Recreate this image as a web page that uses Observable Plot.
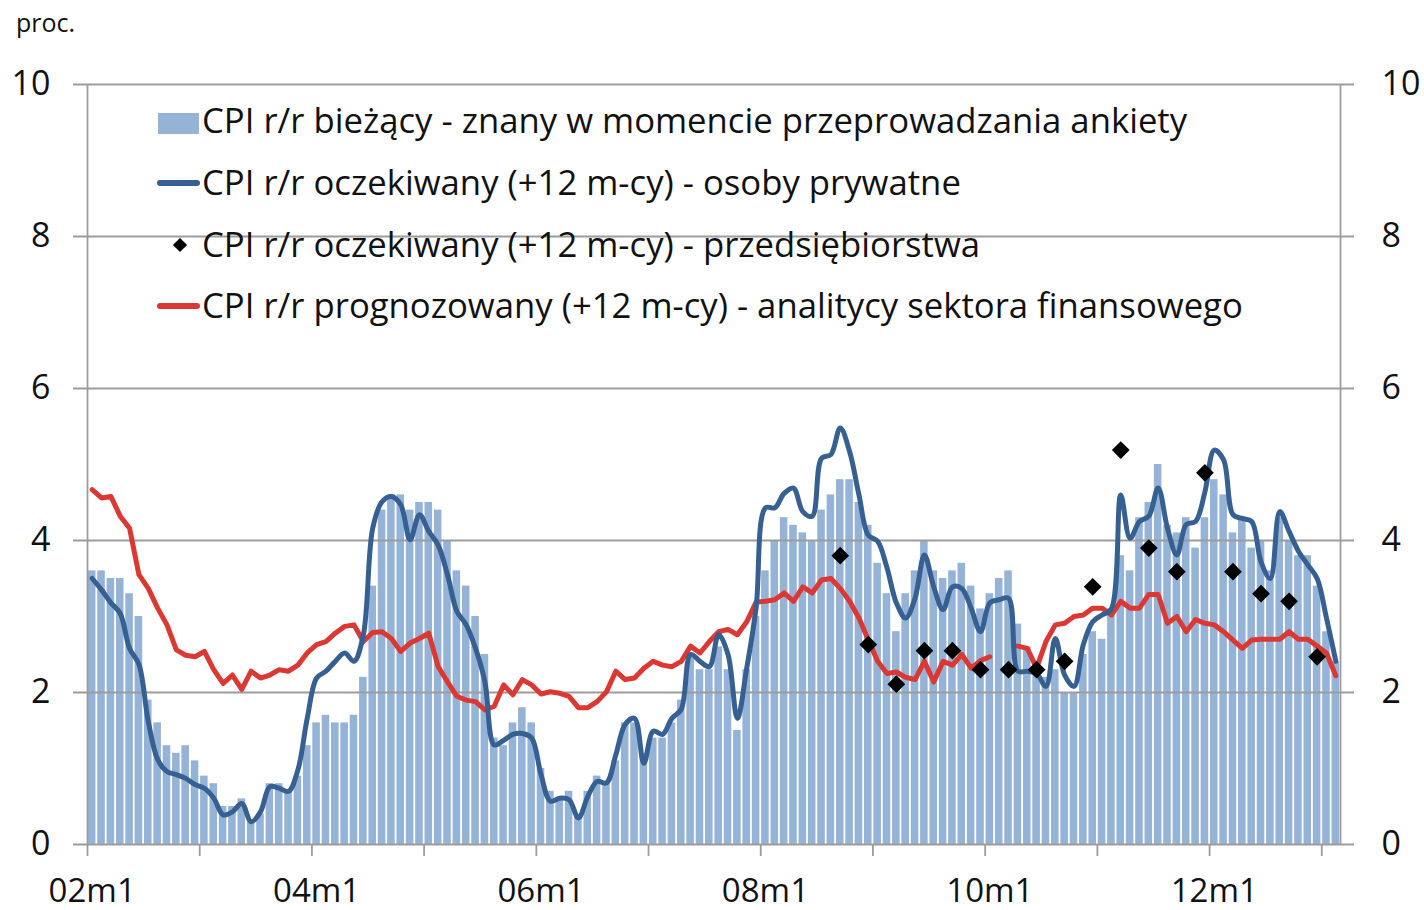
<!DOCTYPE html>
<html><head><meta charset="utf-8">
<script src="https://cdn.jsdelivr.net/npm/d3@7"></script>
<script src="https://cdn.jsdelivr.net/npm/@observablehq/plot@0.6"></script>
<style>
html,body{margin:0;padding:0;background:#fff;}
#wrap{position:relative;width:1424px;height:910px;font-family:"Open Sans",sans-serif;}
#wrap svg{position:absolute;left:0;top:0;}
.lbl{position:absolute;white-space:nowrap;color:#111;line-height:40px;height:40px;}
.sw{position:absolute;}
</style></head><body><div id="wrap"></div>
<script>
// ---- categories (months 2002m1 .. 2013m2) ----
const startYear = 2002;
const nMonths = 134;
const months = Array.from({length: nMonths}, (_, i) =>
  `${String((startYear + Math.floor(i / 12)) % 100).padStart(2, "0")}m${(i % 12) + 1}`);

// ---- series: CPI r/r bieżący (known at survey time) ----
const cpiCurrent = [3.6,3.6,
3.5,3.5,3.3,3.0,1.9,1.6,1.3,1.2,1.3,1.1,0.9,0.8,
0.5,0.5,0.6,0.3,0.4,0.8,0.8,0.7,0.9,1.3,1.6,1.7,
1.6,1.6,1.7,2.2,3.4,4.4,4.6,4.6,4.4,4.5,4.5,4.4,
4.0,3.6,3.4,3.0,2.5,1.4,1.3,1.6,1.8,1.6,1.0,0.7,
0.6,0.7,0.4,0.7,0.9,0.8,1.1,1.6,1.6,1.2,1.4,1.4,
1.6,1.9,2.5,2.3,2.3,2.6,2.3,1.5,2.3,3.0,3.6,4.0,
4.3,4.2,4.1,4.0,4.4,4.6,4.8,4.8,4.5,4.2,3.7,3.3,
2.8,3.3,3.6,4.0,3.6,3.5,3.6,3.7,3.4,3.1,3.3,3.5,
3.6,2.9,2.6,2.4,2.2,2.3,2.0,2.0,2.5,2.8,2.7,3.1,
3.8,3.6,4.3,4.5,5.0,4.2,4.1,4.3,3.9,4.3,4.8,4.6,
4.1,4.3,3.9,4.0,3.6,4.3,4.0,3.8,3.8,3.4,2.8,2.4];

// ---- series: CPI r/r oczekiwany (+12 m-cy) - osoby prywatne ----
const expHouseholds = [3.5,3.35,3.18,3.04,2.58,2.37,1.62,1.12,0.96,0.92,
0.87,0.79,0.74,0.61,0.39,0.43,0.54,0.30,0.43,0.76,
0.74,0.70,0.98,1.66,2.19,2.28,2.41,2.52,2.41,2.76,
4.16,4.51,4.58,4.47,4.01,4.34,4.12,3.94,3.55,3.07,
2.89,2.58,2.14,1.31,1.37,1.45,1.46,1.40,0.92,0.57,
0.61,0.59,0.35,0.63,0.83,0.81,1.18,1.58,1.66,1.07,
1.49,1.45,1.66,1.78,2.50,2.41,2.34,2.76,2.50,1.66,
2.32,3.11,4.43,4.43,4.62,4.69,4.38,4.32,5.08,5.13,
5.48,5.17,4.60,4.07,3.99,3.64,3.18,2.98,3.24,3.81,
3.39,3.09,3.39,3.37,3.11,2.80,3.18,3.22,3.24,2.28,
2.28,2.25,2.08,2.71,2.23,2.08,2.63,2.93,3.02,3.10,
4.60,4.03,4.25,4.32,4.69,4.16,3.81,4.21,4.25,4.64,
5.19,5.06,4.34,4.29,4.25,3.72,3.50,4.38,4.12,3.86,
3.68,3.50,2.98,2.41];

// ---- series: CPI r/r oczekiwany (+12 m-cy) - przedsiębiorstwa (quarterly) ----
const firmMonths = ["08m9","08m12","09m3","09m6","09m9","09m12","10m3","10m6","10m9",
"10m12","11m3","11m6","11m9","11m12","12m3","12m6","12m9","12m12"];
const expFirms = [3.8,2.63,2.11,2.55,2.55,2.30,2.30,2.30,2.41,
3.39,5.19,3.90,3.59,4.89,3.59,3.30,3.20,2.47];

// ---- series: CPI r/r prognozowany (+12 m-cy) - analitycy sektora finansowego ----
const forecastAnalysts = [4.67,4.56,4.58,4.32,4.16,3.55,3.37,3.11,2.89,2.56,
2.49,2.47,2.54,2.30,2.12,2.23,2.04,2.28,2.19,2.23,
2.30,2.28,2.36,2.52,2.63,2.67,2.78,2.87,2.89,2.67,
2.79,2.80,2.71,2.54,2.65,2.71,2.78,2.34,2.14,1.95,
1.90,1.88,1.77,1.82,2.10,1.97,2.17,2.10,1.98,2.01,
1.99,1.95,1.80,1.80,1.88,2.01,2.28,2.17,2.19,2.32,
2.41,2.36,2.34,2.41,2.61,2.52,2.67,2.80,2.83,2.76,
2.93,3.19,3.20,3.22,3.31,3.20,3.39,3.31,3.48,3.50,
3.37,3.20,2.98,2.69,2.41,2.25,2.27,2.20,2.17,2.41,
2.14,2.41,2.36,2.50,2.32,2.42,2.47,null,null,2.61,
2.58,2.32,2.67,2.89,2.91,3.00,3.02,3.11,3.11,3.02,
3.20,3.11,3.11,3.29,3.29,2.91,3.00,2.80,2.96,2.91,
2.89,2.80,2.69,2.58,2.69,2.70,2.70,2.70,2.80,2.70,
2.70,2.61,2.52,2.22];

// ---- axis ticks / labels ----
const yTicks = [0, 2, 4, 6, 8, 10];
const xTickMonths = ["02m1","03m1","04m1","05m1","06m1","07m1","08m1","09m1","10m1","11m1","12m1","13m1"];
const xLabels = ["02m1","04m1","06m1","08m1","10m1","12m1"];

const legendItems = [
  "CPI r/r bieżący - znany w momencie przeprowadzania ankiety",
  "CPI r/r oczekiwany (+12 m-cy) - osoby prywatne",
  "CPI r/r oczekiwany (+12 m-cy) - przedsiębiorstwa",
  "CPI r/r prognozowany (+12 m-cy) - analitycy sektora finansowego"
];

const BAR = "#95b3d7", BLUE = "#376092", RED = "#dc3833", GRID = "#9c9c9c", TXT = "#111";

const idx = m => months.indexOf(m);
const rows = months.map((m, i) => ({m, i, cpi: cpiCurrent[i], hh: expHouseholds[i], an: forecastAnalysts[i]}));
const firms = firmMonths.map((m, k) => ({i: idx(m), v: expFirms[k]}));

const chart = Plot.plot({
  width: 1424, height: 910,
  marginTop: 84, marginBottom: 66, marginLeft: 87, marginRight: 84,
  x: {type: "linear", domain: [0, nMonths], axis: null},
  y: {domain: [0, 10], axis: null},
  style: {fontFamily: "'Open Sans', sans-serif", background: "transparent", overflow: "visible"},
  marks: [
    Plot.rectY(rows, {x1: d => d.i, x2: d => d.i + 1, y: "cpi", fill: BAR, insetLeft: 0.9, insetRight: 0.9}),
    Plot.ruleY(yTicks, {y: d => d, stroke: GRID, strokeWidth: 1.8, insetLeft: -14, insetRight: -14}),
    Plot.ruleX([0, nMonths], {x: d => d, y1: 0, y2: 10, stroke: GRID, strokeWidth: 1.8}),
    Plot.ruleX(xTickMonths, {x: d => idx(d), y1: 0, y2: 0, insetBottom: -12, stroke: GRID, strokeWidth: 1.8}),
    Plot.line(rows, {x: d => d.i + 0.5, y: "an", stroke: RED, strokeWidth: 5, strokeLinejoin: "round", strokeLinecap: "round"}),
    Plot.line(rows, {x: d => d.i + 0.5, y: "hh", stroke: BLUE, strokeWidth: 5, curve: "catmull-rom", strokeLinejoin: "round", strokeLinecap: "round"}),
    Plot.dot(firms, {x: d => d.i + 0.5, y: "v", symbol: "diamond2", r: 8, fill: "#000", stroke: "none"}),
    Plot.text(yTicks, {y: d => d, text: d => String(d), frameAnchor: "left", dx: -37, textAnchor: "end", fontSize: 34, fill: TXT}),
    Plot.text(yTicks, {y: d => d, text: d => String(d), frameAnchor: "right", dx: 41, textAnchor: "start", fontSize: 34, fill: TXT}),
    Plot.text(xLabels, {x: d => idx(d) + 0.5, text: d => d, frameAnchor: "bottom", lineAnchor: "top", dy: 34, fontSize: 33, fill: TXT})
  ]
});

const wrap = document.getElementById("wrap");
wrap.appendChild(chart);

// "proc." unit label
const unit = document.createElement("div");
unit.className = "lbl";
unit.textContent = "proc.";
Object.assign(unit.style, {left: "16px", top: "2px", fontSize: "25px"});
wrap.appendChild(unit);

// legend
const rowsY = [121, 183, 245, 306];
legendItems.forEach((t, k) => {
  const d = document.createElement("div");
  d.className = "lbl";
  d.textContent = t;
  Object.assign(d.style, {left: "202px", top: (rowsY[k] - 21) + "px", fontSize: "34.7px"});
  wrap.appendChild(d);
});

function sw(css) { const s = document.createElement("div"); s.className = "sw"; Object.assign(s.style, css); wrap.appendChild(s); }
sw({left: "158px", top: "113px", width: "41px", height: "21px", background: BAR});
sw({left: "157px", top: (rowsY[1] - 3) + "px", width: "43px", height: "6px", background: BLUE, borderRadius: "3px"});
sw({left: (180 - 5) + "px", top: (rowsY[2] - 5) + "px", width: "10px", height: "10px", background: "#000", transform: "rotate(45deg)"});
sw({left: "157px", top: (rowsY[3] - 3) + "px", width: "43px", height: "6px", background: RED, borderRadius: "3px"});
</script></body></html>
